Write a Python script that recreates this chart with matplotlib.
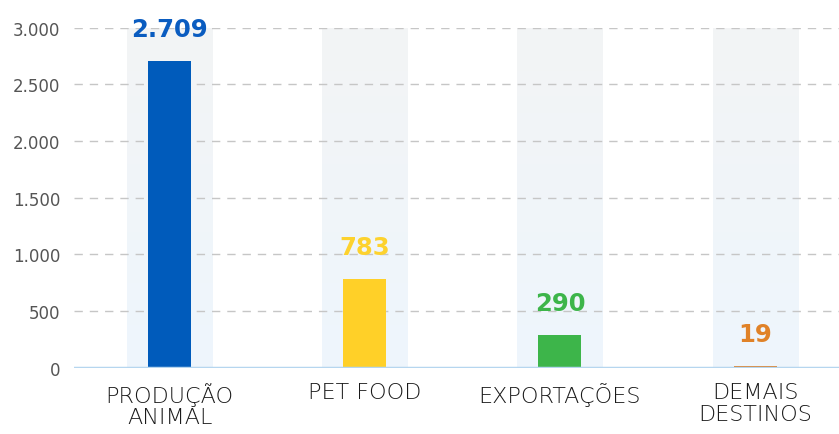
import numpy as np
import matplotlib
matplotlib.use("Agg")
import matplotlib.pyplot as plt
from matplotlib.colors import LinearSegmentedColormap
from matplotlib.ticker import FuncFormatter

categories = ["PRODUÇÃO\nANIMAL", "PET FOOD", "EXPORTAÇÕES", "DEMAIS\nDESTINOS"]
values = [2709, 783, 290, 19]
value_labels = ["2.709", "783", "290", "19"]
bar_colors = ["#005bbb", "#ffd028", "#3db54a", "#e08025"]
label_colors = ["#0a5cc0", "#fdd22e", "#3db54a", "#e08228"]
y_ticks = [0, 500, 1000, 1500, 2000, 2500, 3000]

plt.rcParams["font.family"] = ["DejaVu Sans"]

fig = plt.figure(figsize=(8.39, 4.35), dpi=100)
ax = fig.add_axes([74 / 839, (435 - 368.7) / 435, 1 - 74 / 839, 340 / 435])

x = np.arange(len(categories))
ymax = 3000
ax.set_xlim(-0.49, 3.43)
ax.set_ylim(0, ymax)

# soft vertical bands behind each bar: grey at the top fading to pale blue
band_cmap = LinearSegmentedColormap.from_list("band", ["#eef6fd", "#f3f4f5"])
grad = np.linspace(0, 1, 256).reshape(-1, 1)
band_w = 0.436
for xi in x:
    ax.imshow(grad, cmap=band_cmap, origin="lower", aspect="auto",
              extent=(xi - band_w / 2, xi + band_w / 2, 0, ymax), zorder=0.5)

# dashed horizontal grid
for t in y_ticks[1:]:
    ax.axhline(t, color="#c6c6c6", lw=1.0, ls=(0, (6, 5)), zorder=1)

ax.bar(x, values, width=0.22, color=bar_colors, zorder=2)

# baseline
ax.axhline(0, color="#b6d6ef", lw=2.5, zorder=3)

for xi, v, lab, c in zip(x, values, value_labels, label_colors):
    ax.annotate(lab, (xi, v), xytext=(0, 18), textcoords="offset points",
                ha="center", va="baseline", fontsize=17.5, fontweight="bold",
                color=c, annotation_clip=False, zorder=4)

ax.set_yticks(y_ticks)
ax.yaxis.set_major_formatter(FuncFormatter(lambda v, p: f"{int(v):,}".replace(",", ".")))
ax.set_xticks(x)
ax.set_xticklabels(categories, fontsize=16, fontweight="light",
                   color="#1a1a1a", linespacing=1.12)
ax.tick_params(axis="y", length=0, pad=10, labelsize=12, labelcolor="#555555")
ax.tick_params(axis="x", length=0, pad=10)
for s in ax.spines.values():
    s.set_visible(False)

fig.savefig("out.png", dpi=100, facecolor="white")
